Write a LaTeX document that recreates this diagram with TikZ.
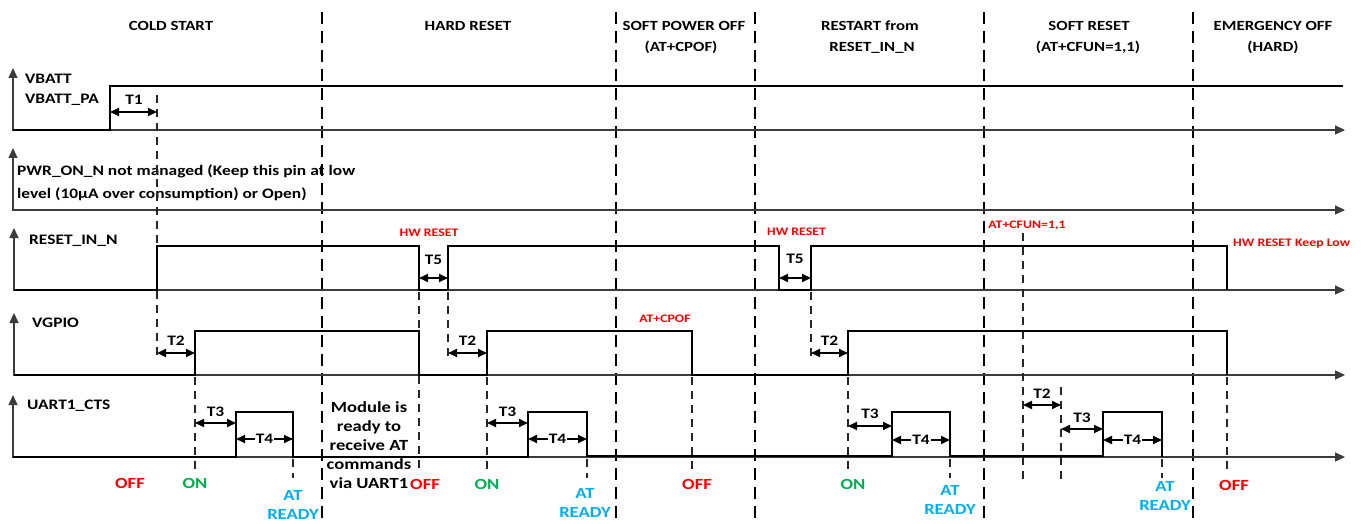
\documentclass[tikz,border=0pt]{standalone}
\usepackage{fontspec}
\setmainfont{Carlito}[FakeStretch=1.2]
\usetikzlibrary{arrows.meta}
\definecolor{offred}{RGB}{255,0,0}
\definecolor{ongreen}{RGB}{0,176,80}
\definecolor{atblue}{RGB}{0,176,240}
\definecolor{axisgray}{RGB}{60,60,60}
\tikzset{
  axisline/.style={draw=axisgray, line width=1.3pt, -{Triangle[length=10pt,width=9pt]}},
  sig/.style={draw=black, line width=2.9pt, line join=miter},
  phase/.style={draw=black, line width=1.6pt, dash pattern=on 12pt off 7pt},
  evt/.style={draw=black!85, line width=1.1pt, dash pattern=on 8pt off 6pt},
  tarr/.style={draw=black, line width=1.8pt, {Triangle[length=9pt,width=8pt]}-{Triangle[length=9pt,width=8pt]}},
  hdr/.style={font=\fontsize{14}{16}\selectfont\bfseries, inner sep=0pt, anchor=base},
  siglbl/.style={font=\fontsize{14.5}{17}\selectfont\bfseries, inner sep=0pt, anchor=base west},
  tlbl/.style={font=\fontsize{14.5}{17}\selectfont\bfseries, inner sep=0pt, anchor=base},
  tmid/.style={font=\fontsize{14.5}{17}\selectfont\bfseries, inner xsep=1pt, inner ysep=0pt, fill=white, anchor=center},
  redsm/.style={font=\fontsize{11.5}{13}\selectfont\bfseries, text=offred, inner sep=0pt, anchor=base},
  st/.style={font=\fontsize{15.5}{18}\selectfont\bfseries, inner sep=0pt, anchor=base},
  offl/.style={st, text=offred},
  onl/.style={st, text=ongreen},
  atl/.style={st, text=atblue},
}
\begin{document}
\begin{tikzpicture}[x=1pt,y=-1pt]
\useasboundingbox (0,0) rectangle (1361,524);
\fill[white] (0,0) rectangle (1361,524);

% ---- phase separators
\foreach \px in {322,616,755,984,1193}
  \draw[phase] (\px,12) -- (\px,524);

% ---- headers
\node[hdr] (hcold) at (171,31) {COLD START};
\node[hdr] (hhard) at (468,31) {HARD RESET};
\node[hdr] (hspo1) at (684,31) {SOFT POWER OFF};
\node[hdr] (hspo2) at (681,52) {(AT+CPOF)};
\node[hdr] (hrst1) at (870,31) {RESTART from};
\node[hdr] (hrst2) at (872,52) {RESET\_IN\_N};
\node[hdr] (hsr1) at (1089,31) {SOFT RESET};
\node[hdr] (hsr2) at (1088,52) {(AT+CFUN=1,1)};
\node[hdr] (hem1) at (1273,31) {EMERGENCY OFF};
\node[hdr] (hem2) at (1273,52) {(HARD)};

% ---- axes
\draw[axisline] (13,131) -- (13,68);
\draw[axisline] (13,130) -- (1345,130);
\draw[axisline] (13,211) -- (13,148);
\draw[axisline] (13,210) -- (1345,210);
\draw[axisline] (14,291) -- (14,228);
\draw[axisline] (14,290) -- (1345,290);
\draw[axisline] (14,376) -- (14,313);
\draw[axisline] (14,375) -- (1345,375);
\draw[axisline] (13,458) -- (13,395);
\draw[axisline] (13,457) -- (1345,457);

% ---- signal labels
\node[siglbl] (lvb1) at (25,83.5) {VBATT};
\node[siglbl] (lvb2) at (25,103.5) {VBATT\_PA};
\node[siglbl] (lpw1) at (17,176) {PWR\_ON\_N not managed (Keep this pin at low};
\node[siglbl] (lpw2) at (17,198) {level (10µA over consumption) or Open)};
\node[siglbl] (lrst) at (29,244) {RESET\_IN\_N};
\node[siglbl] (lvg) at (32,327) {VGPIO};
\node[siglbl] (luart) at (27,409) {UART1\_CTS};

% ---- event dashed lines
\draw[evt] (157,95) -- (157,360);
\draw[evt] (195,377) -- (195,474);
\draw[evt] (293,459) -- (293,478);
\draw[evt] (419,292) -- (419,474);
\draw[evt] (448,292) -- (448,360);
\draw[evt] (487,377) -- (487,474);
\draw[evt] (587,459) -- (587,478);
\draw[evt] (692,377) -- (692,474);
\draw[evt] (811,292) -- (811,360);
\draw[evt] (848,377) -- (848,474);
\draw[evt] (950,459) -- (950,478);
\draw[evt] (1023,233) -- (1023,484);
\draw[evt] (1061,387) -- (1061,480);
\draw[evt] (1162,459) -- (1162,478);
\draw[evt] (1227,377) -- (1227,474);

% ---- waveforms
\draw[sig] (13,130) -- (110,130) -- (110,86) -- (1343,86);
\draw[sig] (14,290) -- (157,290) -- (157,246) -- (419,246) -- (419,290) -- (448,290) -- (448,246)
  -- (779,246) -- (779,290) -- (811,290) -- (811,246) -- (1227,246) -- (1227,290);
\draw[sig] (14,375) -- (195,375) -- (195,331) -- (419,331) -- (419,375) -- (487,375) -- (487,331)
  -- (692,331) -- (692,375) -- (848,375) -- (848,331) -- (1227,331) -- (1227,375);
\draw[sig] (13,457) -- (236,457) -- (236,412) -- (293,412) -- (293,457) -- (528,457) -- (528,412)
  -- (587,412) -- (587,456) -- (892,456) -- (892,412) -- (950,412) -- (950,456) -- (1103,456)
  -- (1103,412) -- (1162,412) -- (1162,457);

% ---- timing arrows
\coordinate (t1a) at (110,112); \coordinate (t1b) at (157,112);
\draw[tarr] (t1a) -- (t1b);
\node[tlbl] (t1) at (134,104.7) {T1};

\draw[tarr] (419,278) -- (448,278);
\node[tlbl] (t5a) at (433.5,264.7) {T5};
\draw[tarr] (779,278) -- (811,278);
\node[tlbl] (t5b) at (795,263.7) {T5};

\draw[tarr] (157,353) -- (195,353);
\node[tlbl] (t2a) at (176,345.7) {T2};
\draw[tarr] (448,353) -- (487,353);
\node[tlbl] (t2b) at (467.5,345.7) {T2};
\draw[tarr] (811,353) -- (848,353);
\node[tlbl] (t2c) at (829.5,345.7) {T2};
\draw[tarr] (1023,405) -- (1061,405);
\node[tlbl] (t2d) at (1042,398.7) {T2};

\draw[tarr] (195,423) -- (236,423);
\node[tlbl] (t3a) at (215.5,416.7) {T3};
\draw[tarr] (487,423) -- (528,423);
\node[tlbl] (t3b) at (507.5,416.7) {T3};
\draw[tarr] (848,426) -- (892,426);
\node[tlbl] (t3c) at (870,418.7) {T3};
\draw[tarr] (1061,429) -- (1103,429);
\node[tlbl] (t3d) at (1082,422.7) {T3};

\draw[tarr] (236,439) -- node[tmid] (t4a) {T4} (293,439);
\draw[tarr] (528,439) -- node[tmid] (t4b) {T4} (587,439);
\draw[tarr] (892,440) -- node[tmid] (t4c) {T4} (950,440);
\draw[tarr] (1103,440) -- node[tmid] (t4d) {T4} (1162,440);

% ---- red command labels
\node[redsm] (hw1) at (429,236.5) {HW RESET};
\node[redsm] (hw2) at (796.5,235) {HW RESET};
\node[redsm] (cpof) at (665,322) {AT+CPOF};
\node[redsm] (cfun) at (1027,228) {AT+CFUN=1,1};
\node[redsm, anchor=base west] (hwk) at (1233,247) {HW RESET Keep Low};

% ---- module text
\node[font=\fontsize{15.5}{19}\selectfont\bfseries, align=center, inner sep=0pt] (mod) at (369,445)
  {Module is\\ready to\\receive AT\\commands\\via UART1};

% ---- state labels
\node[offl] (off1) at (130,488) {OFF};
\node[onl] (on1) at (195,488) {ON};
\node[atl] (at1a) at (293,500) {AT};
\node[atl] (at1b) at (293,519) {READY};
\node[offl] (off2) at (425,489) {OFF};
\node[onl] (on2) at (487,489) {ON};
\node[atl] (at2a) at (585,498) {AT};
\node[atl] (at2b) at (585,517) {READY};
\node[offl] (off3) at (697,489) {OFF};
\node[onl] (on3) at (853,489) {ON};
\node[atl] (at3a) at (950,495) {AT};
\node[atl] (at3b) at (950,514) {READY};
\node[atl] (at4a) at (1165,491) {AT};
\node[atl] (at4b) at (1165,510) {READY};
\node[offl] (off4) at (1234,490) {OFF};
\end{tikzpicture}
\end{document}
